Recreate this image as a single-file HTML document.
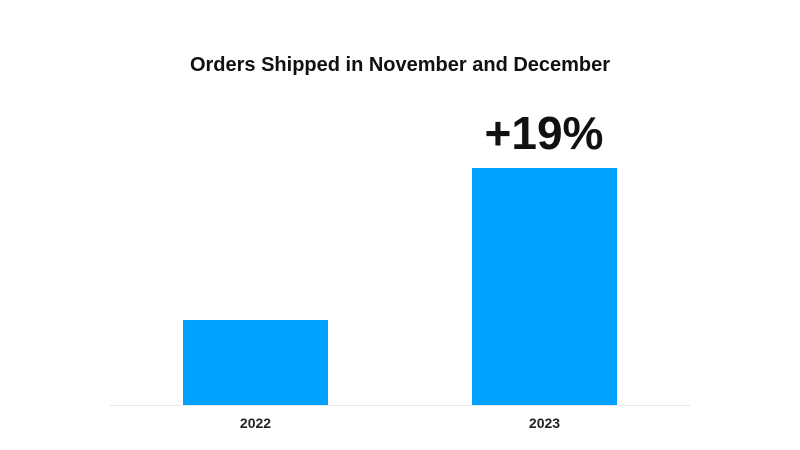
<!DOCTYPE html>
<html><head><meta charset="utf-8"><style>
html,body{margin:0;padding:0;background:#fff;width:800px;height:450px;overflow:hidden}
svg text{font-family:"Liberation Sans",sans-serif}
</style></head><body>
<svg id="chart" width="800" height="450">
<text x="400" y="71" text-anchor="middle" font-size="20" font-weight="bold" fill="#111">Orders Shipped in November and December</text>
<line x1="110" y1="405.5" x2="690" y2="405.5" stroke="#e6e6e6" stroke-width="1"/>
<g id="bars"></g>
<text x="544" y="149" text-anchor="middle" font-size="46" font-weight="bold" fill="#111">+19%</text>
</svg>
<script>
const categories = ["2022", "2023"];
const values = [85, 237];
const yMax = 237;
const baseY = 405, plotH = 237;
const xCenters = {"2022": 255.5, "2023": 544.5};
const barW = 145;
function y(v){ return baseY - v / yMax * plotH; }
const g = document.getElementById('bars');
const ns = 'http://www.w3.org/2000/svg';
categories.forEach((c, i) => {
  const r = document.createElementNS(ns, 'rect');
  r.setAttribute('x', xCenters[c] - barW/2);
  r.setAttribute('y', y(values[i]));
  r.setAttribute('width', barW);
  r.setAttribute('height', baseY - y(values[i]));
  r.setAttribute('fill', '#00a2ff');
  
  
  g.appendChild(r);
  const t = document.createElementNS(ns, 'text');
  t.setAttribute('x', xCenters[c]);
  t.setAttribute('y', 428);
  t.setAttribute('text-anchor', 'middle');
  t.setAttribute('font-size', '14');
  t.setAttribute('font-weight', 'bold');
  t.setAttribute('fill', '#222');
  t.textContent = c;
  
  
  g.appendChild(t);
});
</script>
</body></html>
